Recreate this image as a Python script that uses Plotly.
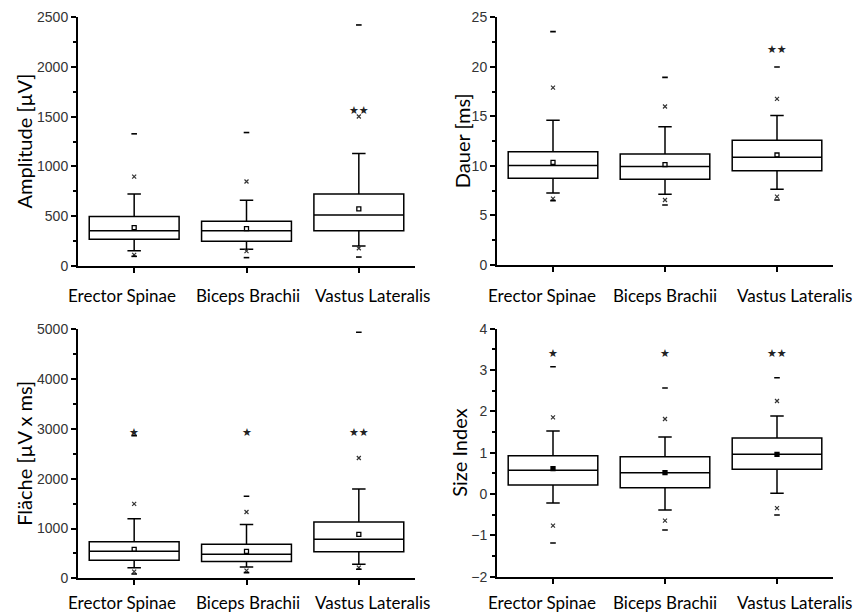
import plotly.graph_objects as go

# page body has an 8px default margin; figure is sized/positioned to compensate
W, H = 853, 604
OFF = 8

categories = ["Erector Spinae", "Biceps Brachii", "Vastus Lateralis"]

# Panel 1: Amplitude [µV]
amp_q1 = [268, 248, 355]
amp_median = [355, 355, 513]
amp_q3 = [496, 449, 724]
amp_whisker_lo = [154, 168, 201]
amp_whisker_hi = [724, 660, 1129]
amp_mean = [385, 375, 573]
amp_p1 = [112, 150, 178]
amp_p99 = [898, 848, 1501]
amp_min = [97, 84, 90]
amp_max = [1327, 1340, 2420]
amp_sig = ["", "", "★★"]
amp_sig_y = 1565

# Panel 2: Dauer [ms]
dau_q1 = [8.75, 8.65, 9.52]
dau_median = [10.03, 9.93, 10.87]
dau_q3 = [11.44, 11.2, 12.58]
dau_whisker_lo = [7.27, 7.13, 7.64]
dau_whisker_hi = [14.6, 13.96, 15.1]
dau_mean = [10.36, 10.13, 11.1]
dau_p1 = [6.7, 6.56, 6.9]
dau_p99 = [17.9, 16.0, 16.76]
dau_min = [6.5, 6.06, 6.56]
dau_max = [23.55, 18.94, 19.99]
dau_sig = ["", "", "★★"]
dau_sig_y = 21.8

# Panel 3: Fläche [µV x ms]
fl_q1 = [361, 335, 535]
fl_median = [542, 482, 783]
fl_q3 = [736, 683, 1131]
fl_whisker_lo = [214, 228, 281]
fl_whisker_hi = [1198, 1078, 1794]
fl_mean = [582, 542, 884]
fl_p1 = [134, 154, 214]
fl_p99 = [1493, 1332, 2416]
fl_min = [87, 114, 181]
fl_max = [2865, 1647, 4940]
fl_sig = ["★", "★", "★★"]
fl_sig_y = 2930

# Panel 4: Size Index
si_q1 = [0.218, 0.153, 0.597]
si_median = [0.573, 0.516, 0.960]
si_q3 = [0.927, 0.903, 1.355]
si_whisker_lo = [-0.218, -0.387, 0.016]
si_whisker_hi = [1.524, 1.379, 1.887]
si_mean = [0.613, 0.516, 0.96]
si_p1 = [-0.766, -0.645, -0.339]
si_p99 = [1.855, 1.815, 2.25]
si_min = [-1.185, -0.87, -0.508]
si_max = [3.08, 2.565, 2.815]
si_sig = ["★", "★", "★★"]
si_sig_y = 3.40

fig = go.Figure()

panels = [
    dict(ax="", q1=amp_q1, med=amp_median, q3=amp_q3, lo=amp_whisker_lo, hi=amp_whisker_hi,
         mean=amp_mean, p1=amp_p1, p99=amp_p99, mn=amp_min, mx=amp_max, sig=amp_sig, sig_y=amp_sig_y,
         title="Amplitude [µV]", rng=[0, 2500], dtick=500, minor=250,
         xpx=(78, 415), ypx=(17, 266), title_x=24, label_y=295, label_dx=(-12, 1, 14),
         mean_open=True),
    dict(ax="2", q1=dau_q1, med=dau_median, q3=dau_q3, lo=dau_whisker_lo, hi=dau_whisker_hi,
         mean=dau_mean, p1=dau_p1, p99=dau_p99, mn=dau_min, mx=dau_max, sig=dau_sig, sig_y=dau_sig_y,
         title="Dauer [ms]", rng=[0, 25], dtick=5, minor=2.5,
         xpx=(497, 833), ypx=(17.3, 265), title_x=462, label_y=295, label_dx=(-11, 0, 17),
         mean_open=True),
    dict(ax="3", q1=fl_q1, med=fl_median, q3=fl_q3, lo=fl_whisker_lo, hi=fl_whisker_hi,
         mean=fl_mean, p1=fl_p1, p99=fl_p99, mn=fl_min, mx=fl_max, sig=fl_sig, sig_y=fl_sig_y,
         title="Fläche [µV x ms]", rng=[0, 5000], dtick=1000, minor=500,
         xpx=(78, 415), ypx=(329.3, 578.3), title_x=24, label_y=602, label_dx=(-12, 1, 14),
         mean_open=True),
    dict(ax="4", q1=si_q1, med=si_median, q3=si_q3, lo=si_whisker_lo, hi=si_whisker_hi,
         mean=si_mean, p1=si_p1, p99=si_p99, mn=si_min, mx=si_max, sig=si_sig, sig_y=si_sig_y,
         title="Size Index", rng=[-2, 4], dtick=1, minor=0.5,
         xpx=(497, 833), ypx=(328.7, 576.7), title_x=459, label_y=602, label_dx=(-11, 0, 17),
         mean_open=False),
]


def fx(px):
    return (px - OFF) / W


def fy(py):
    return 1 - (py - OFF) / H


annotations = []
for p in panels:
    xa = "x" + p["ax"]
    ya = "y" + p["ax"]
    fig.add_trace(go.Box(
        x=categories, q1=p["q1"], median=p["med"], q3=p["q3"],
        lowerfence=p["lo"], upperfence=p["hi"],
        boxpoints=False, fillcolor="rgba(255,255,255,0)",
        line=dict(color="black", width=1.5), whiskerwidth=0.15, width=0.8,
        xaxis=xa, yaxis=ya, showlegend=False, hoverinfo="skip",
    ))
    fig.add_trace(go.Scatter(
        x=categories, y=p["mean"], mode="markers", xaxis=xa, yaxis=ya, showlegend=False,
        marker=dict(symbol="square-open" if p["mean_open"] else "square", size=4,
                    color="black", line=dict(color="black", width=1.3)),
    ))
    fig.add_trace(go.Scatter(
        x=categories + categories, y=p["p1"] + p["p99"], mode="markers",
        xaxis=xa, yaxis=ya, showlegend=False,
        marker=dict(symbol="x-thin", size=4, color="#333", line=dict(color="#333", width=1.2)),
    ))
    fig.add_trace(go.Scatter(
        x=categories + categories, y=p["mn"] + p["mx"], mode="markers",
        xaxis=xa, yaxis=ya, showlegend=False,
        marker=dict(symbol="line-ew", size=4, color="black", line=dict(color="black", width=1.6)),
    ))
    for c, s in zip(categories, p["sig"]):
        if s:
            annotations.append(dict(
                x=c, y=p["sig_y"], xref=xa, yref=ya, text=s, showarrow=False,
                font=dict(family="DejaVu Sans", size=11, color="#222"),
            ))
    # category labels under the axis, tied to the category positions
    for c, dx in zip(categories, p["label_dx"]):
        annotations.append(dict(
            x=c, xref=xa, y=fy(p["label_y"]), yref="paper", xshift=dx,
            text=c, showarrow=False, xanchor="center", yanchor="middle",
            font=dict(family="Lato", size=17, color="black"),
        ))
    x0, x1 = p["xpx"]
    y0, y1 = p["ypx"]
    xkey = "xaxis" + p["ax"]
    ykey = "yaxis" + p["ax"]
    fig.update_layout(**{
        xkey: dict(
            domain=[fx(x0), fx(x1)], anchor=ya, type="category", automargin=False,
            categoryorder="array", categoryarray=categories, range=[-0.5, 2.5],
            showline=True, linecolor="black", linewidth=2, showgrid=False, zeroline=False,
            ticks="outside", ticklen=5, tickwidth=1.5, tickcolor="black",
            showticklabels=False,
        ),
        ykey: dict(
            domain=[fy(y1), fy(y0)], anchor=xa, range=p["rng"], dtick=p["dtick"],
            tick0=p["rng"][0], automargin=False,
            showline=True, linecolor="black", linewidth=2, showgrid=False, zeroline=False,
            ticks="outside", ticklen=5, tickwidth=1.5, tickcolor="black",
            tickfont=dict(family="Liberation Sans", size=14, color="#333"),
            minor=dict(ticks="outside", ticklen=3, tickwidth=1.5, tickcolor="black",
                       dtick=p["minor"], tick0=p["rng"][0], showgrid=False),
        ),
    })
    annotations.append(dict(
        x=fx(p["title_x"]), y=fy((y0 + y1) / 2), xref="paper", yref="paper",
        text=p["title"], textangle=-90, showarrow=False,
        xanchor="center", yanchor="middle",
        font=dict(family="Lato", size=20, color="black"),
    ))

fig.update_layout(
    width=W, height=H,
    margin=dict(l=0, r=0, t=0, b=0, autoexpand=False),
    paper_bgcolor="white", plot_bgcolor="white",
    annotations=annotations,
)

fig.write_html("out.html")
